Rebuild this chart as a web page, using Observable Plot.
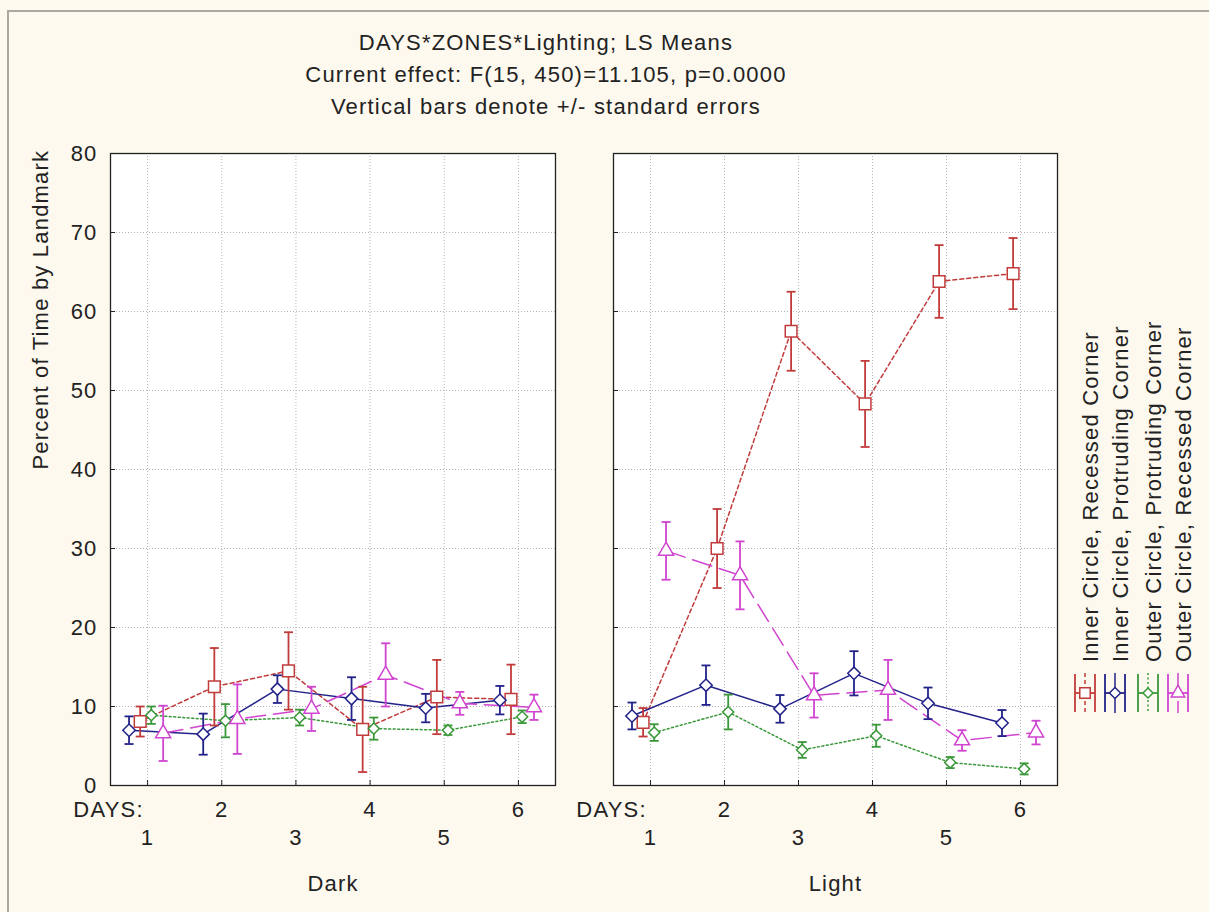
<!DOCTYPE html>
<html>
<head>
<meta charset="utf-8">
<script src="https://cdn.jsdelivr.net/npm/d3@7"></script>
<script src="https://cdn.jsdelivr.net/npm/@observablehq/plot@0.6"></script>
<style>
  html, body { margin: 0; padding: 0; background: #fdf9ee; }
  #page {
    position: relative; width: 1209px; height: 912px; overflow: hidden;
    background: #fdf9ee; font-family: "Liberation Sans", Arial, sans-serif; color: #222;
  }
  .edge-top { position: absolute; left: 7px; right: 0; top: 10px; height: 2px; background: #a9a9a2; }
  .edge-left { position: absolute; left: 7px; top: 10px; bottom: 0; width: 2px; background: #a9a9a2; }
  #title {
    position: absolute; left: 0; top: 27px; width: 1092px; text-align: center;
    font-size: 22px; line-height: 32px; letter-spacing: 1.2px;
  }
  .panel { position: absolute; top: 125px; }
  .panel svg { overflow: visible; }
  #legend { position: absolute; left: 1060px; top: 300px; }
</style>
</head>
<body>
<div id="page">
  <div class="edge-top"></div>
  <div class="edge-left"></div>
  <div id="title"></div>
  <div id="left" class="panel" style="left:0px"></div>
  <div id="right" class="panel" style="left:584px"></div>
  <div id="legend"></div>
</div>
<script>
// ---- data: LS means and standard errors by day, zone and lighting ----
const titleLines = [
  "DAYS*ZONES*Lighting; LS Means",
  "Current effect: F(15, 450)=11.105, p=0.0000",
  "Vertical bars denote +/- standard errors"
];
const yLabel = "Percent of Time by Landmark";
const xLabel = "DAYS:";
const days = [1, 2, 3, 4, 5, 6];
const yTicks = [0, 10, 20, 30, 40, 50, 60, 70, 80];
const lighting = ["Dark", "Light"];
const zones = [
  "Inner Circle, Recessed Corner",
  "Inner Circle, Protruding Corner",
  "Outer Circle, Protruding Corner",
  "Outer Circle, Recessed Corner"
];

// Dark
const darkInnerRecessed     = [8.1, 12.5, 14.5, 7.1, 11.2, 10.9];
const darkInnerRecessedSE   = [1.9, 4.9, 4.9, 5.4, 4.7, 4.4];
const darkInnerProtruding   = [7.0, 6.5, 12.2, 11.0, 9.8, 10.8];
const darkInnerProtrudingSE = [1.75, 2.6, 1.75, 2.7, 1.8, 1.8];
const darkOuterProtruding   = [8.9, 8.2, 8.6, 7.2, 7.0, 8.7];
const darkOuterProtrudingSE = [1.1, 2.1, 1.0, 1.4, 0.6, 0.8];
const darkOuterRecessed     = [6.6, 8.4, 9.7, 14.0, 10.4, 9.9];
const darkOuterRecessedSE   = [3.5, 4.4, 2.8, 4.0, 1.45, 1.6];

// Light
const lightInnerRecessed     = [8.0, 30.0, 57.5, 48.3, 63.8, 64.8];
const lightInnerRecessedSE   = [1.8, 5.0, 5.0, 5.45, 4.6, 4.5];
const lightInnerProtruding   = [8.8, 12.7, 9.7, 14.2, 10.4, 7.9];
const lightInnerProtrudingSE = [1.7, 2.5, 1.75, 2.8, 2.0, 1.65];
const lightOuterProtruding   = [6.7, 9.3, 4.5, 6.3, 2.9, 2.1];
const lightOuterProtrudingSE = [1.05, 2.2, 1.0, 1.4, 0.7, 0.7];
const lightOuterRecessed     = [29.7, 26.6, 11.4, 12.1, 5.7, 6.7];
const lightOuterRecessedSE   = [3.65, 4.3, 2.8, 3.8, 1.3, 1.5];

// ---- styling per zone ----
const zoneColors = ["#c23b3b", "#22228a", "#3a983a", "#d044d0"];
const zoneDash = ["4,3", null, "2,2.5", "20,8"];
const zoneShift = [-0.1, -0.25, 0.05, 0.21];   // side-by-side offsets within a day
const zoneSymbol = ["square", "diamond2", "diamond2", "triangle"];
const zoneR = [6.6, 5.6, 5.0, 5.6];

const means = {
  Dark: [darkInnerRecessed, darkInnerProtruding, darkOuterProtruding, darkOuterRecessed],
  Light: [lightInnerRecessed, lightInnerProtruding, lightOuterProtruding, lightOuterRecessed]
};
const errors = {
  Dark: [darkInnerRecessedSE, darkInnerProtrudingSE, darkOuterProtrudingSE, darkOuterRecessedSE],
  Light: [lightInnerRecessedSE, lightInnerProtrudingSE, lightOuterProtrudingSE, lightOuterRecessedSE]
};

const rows = [];
for (const light of lighting) {
  zones.forEach((zone, zi) => {
    days.forEach((day, di) => {
      rows.push({
        lighting: light, zone, zi, day,
        pos: day + zoneShift[zi],
        mean: means[light][zi][di],
        se: errors[light][zi][di]
      });
    });
  });
}

// horizontal stroke used for error-bar caps
const capSymbol = {
  draw(context, size) {
    const w = Math.sqrt(size / Math.PI);
    context.moveTo(-w, 0);
    context.lineTo(w, 0);
  }
};

d3.select("#title").selectAll("div").data(titleLines).join("div").text(d => d);

const fontFamily = "'Liberation Sans', Arial, sans-serif";
const H = 787, MT = 28, MB = 127;
const plotH = H - MT - MB;

function panel(light, {width, marginLeft, marginRight, showY}) {
  const data = rows.filter(d => d.lighting === light);
  const plotW = width - marginLeft - marginRight;
  const marks = [
    Plot.frame({fill: "white", stroke: null}),
    Plot.gridX(days, {stroke: "#b4b4b4", strokeOpacity: 1, strokeDasharray: "1,2"}),
    Plot.gridY(yTicks, {stroke: "#b4b4b4", strokeOpacity: 1, strokeDasharray: "1,2"}),
    // inward tick marks on the left and bottom edges
    Plot.ruleY(yTicks, {stroke: "#222", insetRight: plotW - 5}),
    Plot.ruleX(days, {stroke: "#222", insetTop: plotH - 5}),
    Plot.frame({stroke: "#222", strokeWidth: 1.3}),
    Plot.axisX(days.filter(d => d % 2 === 0), {tickSize: 0, tickPadding: 16, label: null}),
    Plot.axisX(days.filter(d => d % 2 === 1), {tickSize: 0, tickPadding: 44, label: null}),
    Plot.text([xLabel], {frameAnchor: "bottom-left", dx: -2, dy: 16, lineAnchor: "top", textAnchor: "middle"}),
    Plot.text([light], {frameAnchor: "bottom", dy: 90, lineAnchor: "top"})
  ];
  if (showY) {
    marks.push(
      Plot.axisY(yTicks, {tickSize: 0, tickPadding: 13, label: null}),
      Plot.text([yLabel], {frameAnchor: "left", dx: -70, rotate: -90})
    );
  }
  zones.forEach((zone, zi) => {
    const s = data.filter(d => d.zi === zi);
    const c = zoneColors[zi];
    marks.push(
      Plot.line(s, {x: "pos", y: "mean", stroke: c, strokeWidth: 1.5, strokeDasharray: zoneDash[zi]})
    );
  });
  zones.forEach((zone, zi) => {
    const s = data.filter(d => d.zi === zi);
    const c = zoneColors[zi];
    marks.push(
      Plot.ruleX(s, {x: "pos", y1: d => d.mean - d.se, y2: d => d.mean + d.se, stroke: c, strokeWidth: 1.8}),
      Plot.dot(s, {x: "pos", y: d => d.mean + d.se, symbol: capSymbol, r: 4.5, stroke: c, strokeWidth: 1.8}),
      Plot.dot(s, {x: "pos", y: d => d.mean - d.se, symbol: capSymbol, r: 4.5, stroke: c, strokeWidth: 1.8}),
      Plot.dot(s, {x: "pos", y: "mean", symbol: zoneSymbol[zi], r: zoneR[zi], fill: "white", stroke: c, strokeWidth: 1.5})
    );
  });
  return Plot.plot({
    width, height: H, marginTop: MT, marginBottom: MB, marginLeft, marginRight,
    x: {domain: [0.5, 6.5], axis: null},
    y: {domain: [0, 80], axis: null},
    style: {fontFamily, fontSize: "22px", color: "#222", background: "transparent", letterSpacing: "1.2px", overflow: "visible"},
    marks
  });
}

document.getElementById("left").append(panel("Dark", {width: 584, marginLeft: 110, marginRight: 29, showY: true}));
document.getElementById("right").append(panel("Light", {width: 625, marginLeft: 29, marginRight: 152, showY: false}));

// ---- legend: rotated labels with line / error-bar / marker keys ----
const lg = d3.select("#legend").append("svg").attr("width", 149).attr("height", 430)
  .style("font-family", fontFamily).style("font-size", "22px").style("letter-spacing", "1.2px");
const keyX = [25, 55, 88, 118];
const keyY = 393;
zones.forEach((zone, zi) => {
  const c = zoneColors[zi];
  const g = lg.append("g").attr("transform", `translate(${keyX[zi]},${keyY})`);
  g.append("line").attr("x1", 0).attr("x2", 0).attr("y1", -20).attr("y2", 20)
    .attr("stroke", c).attr("stroke-width", 1.5).attr("stroke-dasharray", zoneDash[zi]);
  g.append("line").attr("x1", -10).attr("x2", 10).attr("y1", 0).attr("y2", 0)
    .attr("stroke", c).attr("stroke-width", 1.8);
  for (const sx of [-10, 10]) {
    g.append("line").attr("x1", sx).attr("x2", sx).attr("y1", -19).attr("y2", 19)
      .attr("stroke", c).attr("stroke-width", 1.8);
  }
  const sym = {square: d3.symbolSquare, diamond2: d3.symbolDiamond2, triangle: d3.symbolTriangle}[zoneSymbol[zi]];
  g.append("path").attr("d", d3.symbol(sym, Math.PI * zoneR[zi] * zoneR[zi] * 0.8)())
    .attr("fill", "white").attr("stroke", c).attr("stroke-width", 1.5);
  lg.append("text")
    .attr("transform", `translate(${keyX[zi] + 5},${keyY - 31}) rotate(-90)`)
    .attr("dominant-baseline", "central")
    .attr("fill", "#222")
    .text(zone);
});
</script>
</body>
</html>
